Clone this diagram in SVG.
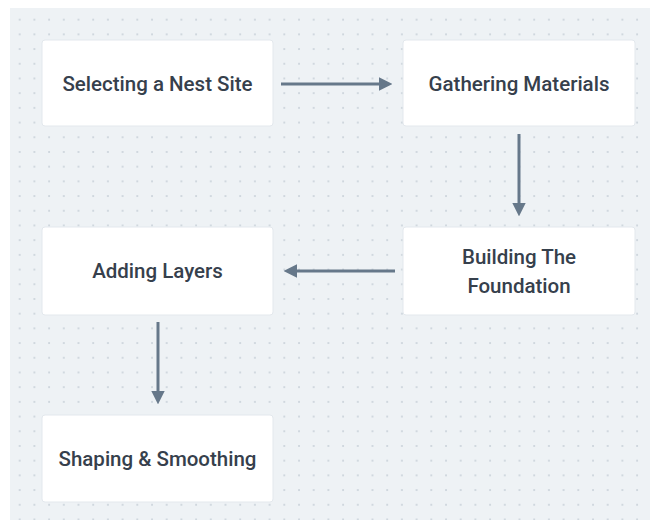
<svg xmlns="http://www.w3.org/2000/svg" width="659" height="529" viewBox="0 0 659 529">
<defs>
<pattern id="dots" x="3" y="3" width="14.7" height="14.7" patternUnits="userSpaceOnUse">
<circle cx="2" cy="2" r="0.9" fill="#c3ccd5"/>
</pattern>
<marker id="ah" viewBox="0 0 10 10" refX="6" refY="5" markerWidth="4.5" markerHeight="4.5" orient="auto" markerUnits="strokeWidth">
<path d="M0,0 L10,5 L0,10 z" fill="#66788a"/>
</marker>
</defs>
<style>
.card{fill:#ffffff;stroke:#e3e8ed;stroke-width:1}
.lbl{font-family:Roboto,"Liberation Sans",sans-serif;font-size:20.5px;font-weight:500;fill:#36404c;text-anchor:middle}
.edge{stroke:#66788a;stroke-width:3;fill:none;marker-end:url(#ah)}
</style>
<rect width="659" height="529" fill="#ffffff"/>
<rect x="10" y="8" width="640" height="512" fill="#eef2f5"/>
<rect x="10" y="8" width="640" height="512" fill="url(#dots)"/>
<g id="connectors">
<line class="edge" x1="281" y1="84" x2="387" y2="84"/>
<line class="edge" x1="519" y1="134" x2="519" y2="211"/>
<line class="edge" x1="395" y1="271" x2="289" y2="271"/>
<line class="edge" x1="158" y1="322" x2="158" y2="399"/>
</g>
<g id="n1"><rect class="card" x="42" y="40" width="231" height="86" rx="3"/><text class="lbl" x="157.5" y="91">Selecting a Nest Site</text></g>
<g id="n2"><rect class="card" x="403" y="40" width="232" height="86" rx="3"/><text class="lbl" x="519" y="91">Gathering Materials</text></g>
<g id="n3"><rect class="card" x="403" y="227" width="232" height="88" rx="3"/><text class="lbl" x="519" y="264">Building The</text><text class="lbl" x="519" y="293">Foundation</text></g>
<g id="n4"><rect class="card" x="42" y="227" width="231" height="88" rx="3"/><text class="lbl" x="157.5" y="278">Adding Layers</text></g>
<g id="n5"><rect class="card" x="42" y="415" width="231" height="87" rx="3"/><text class="lbl" x="157.5" y="466">Shaping &amp; Smoothing</text></g>
</svg>
